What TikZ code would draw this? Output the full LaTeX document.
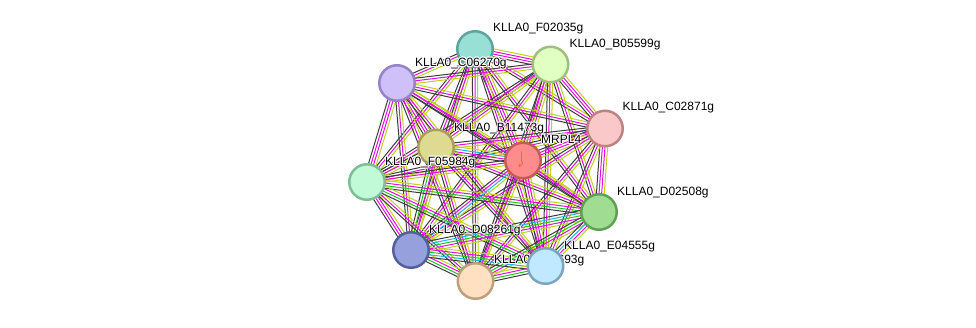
\documentclass[tikz,border=0pt]{standalone}
\usepackage{fontspec}
\setmainfont{Liberation Sans}
\usetikzlibrary{calc}
\pgfdeclarelayer{bg}
\pgfdeclarelayer{edges}
\pgfsetlayers{bg,edges,main}
\definecolor{cK}{HTML}{3C3C3C}
\definecolor{cM}{HTML}{E010E0}
\definecolor{cY}{HTML}{BED21E}
\definecolor{cG}{HTML}{20C820}
\definecolor{cC}{HTML}{20B4E0}
\tikzset{
  ek/.style={draw=cK,line width=1pt},
  em/.style={draw=cM,line width=1pt},
  ey/.style={draw=cY,line width=1pt},
  eg/.style={draw=cG,line width=1pt},
  ec/.style={draw=cC,line width=1pt},
  prot/.style={circle,minimum size=35.5pt,inner sep=0pt,line width=2.5pt},
  lbl/.style={anchor=base west,inner sep=0pt,font=\fontsize{12pt}{14pt}\selectfont},
}
\newcommand\halolabel[3]{% name, position, text
  \foreach \dx/\dy in {0.9/0,-0.9/0,0/0.9,0/-0.9,0.65/0.65,-0.65/0.65,0.65/-0.65,-0.65/-0.65}{
    \node[lbl,text=white] at ($(#2)+(\dx,\dy)$) {#3};
  }
  \node[lbl] (#1) at (#2) {#3};
}
\newcommand\edg[3]{%
  \gdef\tmpn{0}%
  \foreach \c in {#3}{\xdef\tmpn{\the\numexpr\tmpn+1\relax}}%
  \foreach \c [count=\i] in {#3}{%
    \pgfmathsetmacro\off{(\i-1-(\tmpn-1)/2)*2.6}%
    \draw[\c] ($(#1.center)!\off pt!90:(#2.center)$) -- ($(#2.center)!\off pt!-90:(#1.center)$);
  }%
}
\begin{document}
\begin{tikzpicture}[x=1pt,y=-1pt]
\begin{pgfonlayer}{bg}
\fill[white] (0,0) rectangle (976,327);
\end{pgfonlayer}
\useasboundingbox (0,0) rectangle (976,327);
% nodes
\node[prot,fill={rgb,255:red,152;green,224;blue,214},draw={rgb,255:red,95;green,165;blue,158}] (F02) at (475,49) {};
\node[prot,fill={rgb,255:red,224;green,255;blue,192},draw={rgb,255:red,160;green,190;blue,128}] (B055) at (550.5,64.5) {};
\node[prot,fill={rgb,255:red,208;green,192;blue,250},draw={rgb,255:red,150;green,130;blue,200}] (C06) at (397,83) {};
\node[prot,fill={rgb,255:red,250;green,200;blue,200},draw={rgb,255:red,190;green,130;blue,130}] (C028) at (605,128.5) {};
\node[prot,fill={rgb,255:red,222;green,218;blue,145},draw={rgb,255:red,168;green,160;blue,90}] (B11) at (436,147.5) {};
\node[prot,fill={rgb,255:red,255;green,140;blue,140},draw={rgb,255:red,196;green,90;blue,90}] (MR) at (523,160.5) {};
\node[prot,fill={rgb,255:red,192;green,250;blue,215},draw={rgb,255:red,128;green,190;blue,150}] (F059) at (367,182) {};
\node[prot,fill={rgb,255:red,160;green,220;blue,145},draw={rgb,255:red,95;green,160;blue,85}] (D025) at (599,212) {};
\node[prot,fill={rgb,255:red,150;green,160;blue,220},draw={rgb,255:red,85;green,95;blue,155}] (D08) at (411,250) {};
% label of bottom node drawn before the light blue node that hides part of it
\halolabel{lX93}{494,263.5}{KLLA0\_F00693g}
\node[prot,fill={rgb,255:red,255;green,224;blue,192},draw={rgb,255:red,190;green,160;blue,125}] (X93) at (475.5,281) {};
\node[prot,fill={rgb,255:red,192;green,232;blue,255},draw={rgb,255:red,125;green,165;blue,190}] (E04) at (545.5,266) {};
% small structure inside MRPL4
\draw[red!60!orange,opacity=0.7,line width=0.5pt] (521,151) .. controls (523,155) and (520,159) .. (522,162) .. controls (524,164) and (520,165) .. (519,167);
\fill[orange!80!red,opacity=0.8] (519.5,165) circle (1.1);
% edges
\begin{pgfonlayer}{edges}
\edg{F02}{B055}{ek,em,em,ey}
\edg{F02}{C06}{ek,em,ey}
\edg{F02}{C028}{ek,em,ey}
\edg{F02}{B11}{ek,em,ey}
\edg{F02}{MR}{ek,em,em,ey}
\edg{F02}{F059}{ek,em,ey}
\edg{F02}{D025}{ek,em,ey}
\edg{F02}{D08}{ek,em,ey}
\edg{F02}{X93}{ek,em,ey}
\edg{F02}{E04}{ek,em,ey}
\edg{B055}{C06}{ek,em,ey}
\edg{B055}{C028}{ek,em,em,ey}
\edg{B055}{B11}{ek,em,ey}
\edg{B055}{MR}{ek,em,em,ey}
\edg{B055}{F059}{ek,em,ey}
\edg{B055}{D025}{ek,em,ey}
\edg{B055}{D08}{ek,em,ey}
\edg{B055}{X93}{ek,em,ey}
\edg{B055}{E04}{ek,em,ey}
\edg{C06}{C028}{ek,em,ey}
\edg{C06}{B11}{ek,em,em,ey}
\edg{C06}{MR}{ek,em,ey}
\edg{C06}{F059}{ek,em,em,ey}
\edg{C06}{D025}{ek,em,ey}
\edg{C06}{D08}{ek,em,ey}
\edg{C06}{X93}{ek,em,ey}
\edg{C06}{E04}{ek,em,ey}
\edg{C028}{B11}{ek,em,ey}
\edg{C028}{MR}{ek,em,em,ey}
\edg{C028}{F059}{ek,em,ey}
\edg{C028}{D025}{ek,em,em,ey}
\edg{C028}{D08}{ek,em,ey}
\edg{C028}{X93}{ek,em,ey}
\edg{C028}{E04}{ek,em,ey}
\edg{B11}{MR}{ek,em,ec,ey}
\edg{B11}{F059}{ek,em,ey}
\edg{B11}{D025}{ek,em,ey}
\edg{B11}{D08}{ek,eg,em,ey}
\edg{B11}{X93}{ek,em,ey}
\edg{B11}{E04}{ek,em,ey}
\edg{MR}{F059}{ek,em,ey}
\edg{MR}{D025}{ek,em,ey}
\edg{MR}{D08}{ek,em,ec,ey}
\edg{MR}{X93}{ek,em,ey}
\edg{MR}{E04}{ek,em,em,ey}
\edg{F059}{D025}{ek,eg,em,ey}
\edg{F059}{D08}{ek,em,em,ey}
\edg{F059}{X93}{ek,em,ey}
\edg{F059}{E04}{ek,eg,em,ey}
\edg{D025}{D08}{ek,ec,eg,em,ey}
\edg{D025}{X93}{ek,eg,em,ey}
\edg{D025}{E04}{ek,ec,em,ey}
\edg{D08}{X93}{ek,eg,em,ey}
\edg{D08}{E04}{ek,ec,eg,em,ey}
\edg{X93}{E04}{ek,eg,em,ey}
\end{pgfonlayer}
% labels
\halolabel{lF02}{493,31}{KLLA0\_F02035g}
\halolabel{lB055}{569.5,47}{KLLA0\_B05599g}
\halolabel{lC06}{415,66.5}{KLLA0\_C06270g}
\halolabel{lC028}{622.5,110.5}{KLLA0\_C02871g}
\halolabel{lB11}{454,131}{KLLA0\_B11473g}
\halolabel{lMR}{541,143.5}{MRPL4}
\halolabel{lF059}{385,165.5}{KLLA0\_F05984g}
\halolabel{lD025}{617,195}{KLLA0\_D02508g}
\halolabel{lD08}{429,233}{KLLA0\_D08261g}
\halolabel{lE04}{564,249}{KLLA0\_E04555g}
\end{tikzpicture}
\end{document}
